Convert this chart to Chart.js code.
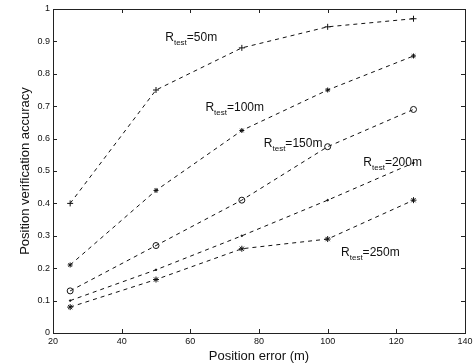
<!DOCTYPE html>
<html>
<head>
<meta charset="utf-8">
<script src="https://cdn.jsdelivr.net/npm/chart.js@4/dist/chart.umd.min.js"></script>
<style>
html,body{margin:0;padding:0;background:#fff;}
#wrap{width:476px;height:364px;}
</style>
</head>
<body>
<div id="wrap"><canvas id="c" width="476" height="364"></canvas></div>
<script>
const positionError = [25, 50, 75, 100, 125];
const acc50  = [0.40, 0.75, 0.88, 0.945, 0.97];
const acc100 = [0.21, 0.44, 0.625, 0.75, 0.855];
const acc150 = [0.13, 0.27, 0.41, 0.575, 0.69];
const acc200 = [0.10, 0.195, 0.30, 0.41, 0.525];
const acc250 = [0.08, 0.165, 0.26, 0.29, 0.41];
const seriesNames = ['50m', '100m', '150m', '200m', '250m'];
const xTicks = [20, 40, 60, 80, 100, 120, 140];
const yTicks = [0, 0.1, 0.2, 0.3, 0.4, 0.5, 0.6, 0.7, 0.8, 0.9, 1];

// label anchors in data coordinates
const labelAnchors = [[52.7, 0.913], [64.4, 0.698], [81.4, 0.586], [110.4, 0.528], [103.9, 0.25]];

const FONT = '"Liberation Sans", Arial, sans-serif';
const toPts = arr => arr.map((v, i) => ({x: positionError[i], y: v}));
const markers = [
  {pointStyle: 'cross', radius: 3},
  {pointStyle: 'star', radius: 2.5},
  {pointStyle: 'circle', radius: 3},
  {pointStyle: 'circle', radius: 0.8},
  {pointStyle: 'star', radius: 3}
];
const allSeries = [acc50, acc100, acc150, acc200, acc250];

const datasets = allSeries.map((arr, i) => ({
  label: 'R_test=' + seriesNames[i],
  data: toPts(arr),
  borderColor: '#111',
  backgroundColor: i === 1 || i === 3 ? '#111' : 'rgba(0,0,0,0)',
  borderWidth: 1,
  borderDash: [4, 4],
  pointStyle: markers[i].pointStyle,
  pointRadius: markers[i].radius,
  pointBorderWidth: 1,
  pointBorderColor: '#111',
  pointBackgroundColor: i === 1 || i === 3 ? '#111' : 'rgba(0,0,0,0)',
  fill: false,
  tension: 0
}));

const framePlugin = {
  id: 'frame',
  afterDraw(chart) {
    const {ctx, chartArea: a, scales: {x, y}} = chart;
    ctx.save();
    ctx.strokeStyle = '#222';
    ctx.lineWidth = 1;
    ctx.setLineDash([]);
    ctx.strokeRect(Math.round(a.left) + 0.5, Math.round(a.top) + 0.5,
                   Math.round(a.right - a.left), Math.round(a.bottom - a.top));
    const tl = 4;
    xTicks.forEach(v => {
      const px = Math.round(x.getPixelForValue(v)) + 0.5;
      ctx.beginPath();
      ctx.moveTo(px, a.bottom); ctx.lineTo(px, a.bottom - tl);
      ctx.moveTo(px, a.top); ctx.lineTo(px, a.top + tl);
      ctx.stroke();
    });
    yTicks.forEach(v => {
      const py = Math.round(y.getPixelForValue(v)) + 0.5;
      ctx.beginPath();
      ctx.moveTo(a.left, py); ctx.lineTo(a.left + tl, py);
      ctx.moveTo(a.right, py); ctx.lineTo(a.right - tl, py);
      ctx.stroke();
    });
    // series labels: R with subscript "test"
    ctx.fillStyle = '#111';
    ctx.textBaseline = 'alphabetic';
    labelAnchors.forEach((p, i) => {
      let px = x.getPixelForValue(p[0]);
      const py = y.getPixelForValue(p[1]) + 4;
      ctx.font = '12px ' + FONT;
      ctx.fillText('R', px, py);
      px += ctx.measureText('R').width;
      ctx.font = '8px ' + FONT;
      ctx.fillText('test', px, py + 4);
      px += ctx.measureText('test').width;
      ctx.font = '12px ' + FONT;
      ctx.fillText('=' + seriesNames[i], px, py);
    });
    ctx.restore();
  }
};

new Chart(document.getElementById('c'), {
  type: 'line',
  data: {datasets},
  options: {
    responsive: false,
    animation: false,
    devicePixelRatio: 1,
    layout: {padding: {top: 9, right: 11, left: 18, bottom: 0}},
    plugins: {legend: {display: false}, tooltip: {enabled: false}},
    scales: {
      x: {
        type: 'linear', min: 20, max: 140,
        afterBuildTicks: s => { s.ticks = xTicks.map(v => ({value: v})); },
        afterFit: s => { s.height = 31; },
        grid: {display: false, drawTicks: false},
        border: {display: false},
        ticks: {color: '#111', font: {size: 9, family: FONT}, padding: 3, maxRotation: 0, autoSkip: false},
        title: {display: true, text: 'Position error (m)', color: '#111', font: {size: 13, family: FONT}, padding: {top: 0, bottom: 0}}
      },
      y: {
        type: 'linear', min: 0, max: 1,
        afterBuildTicks: s => { s.ticks = yTicks.map(v => ({value: v})); },
        afterFit: s => { s.width = 35; },
        grid: {display: false, drawTicks: false},
        border: {display: false},
        ticks: {color: '#111', font: {size: 9, family: FONT}, padding: 3, autoSkip: false,
          callback: v => (v === 0 ? '0' : v === 1 ? '1' : v.toFixed(1))},
        title: {display: true, text: 'Position verification accuracy', color: '#111', font: {size: 13, family: FONT}, padding: {top: 0, bottom: 0}}
      }
    }
  },
  plugins: [framePlugin]
});
</script>
</body>
</html>
